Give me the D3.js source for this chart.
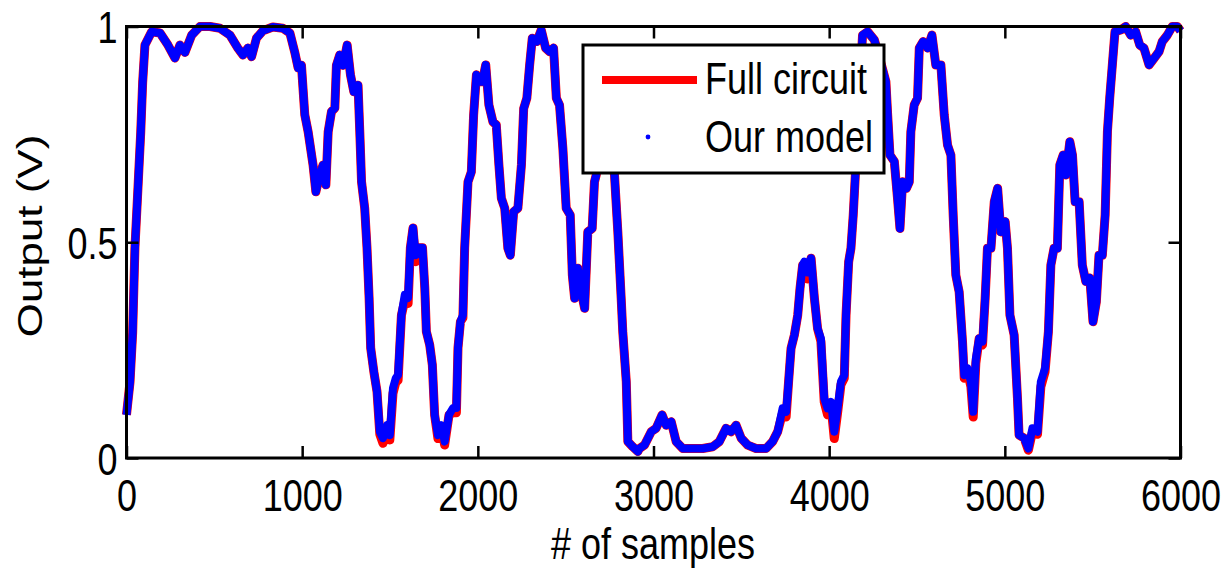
<!DOCTYPE html>
<html lang="en">
<head>
<meta charset="utf-8">
<title>Output vs samples</title>
<script src="https://d3js.org/d3.v7.min.js"></script>
<style>
  body { margin: 0; background: #fff; }
  svg text { font-family: "Liberation Sans", Arial, sans-serif; fill: #000; }
</style>
</head>
<body>
<svg width="1225" height="573"></svg>
<script>
// sample index of each traced point
var samples = [0,20,35,48,67,81,92,105,143,191,236,276,304,333,371,418,475,532,589,634,663,691,712,740,776,833,890,930,958,977,
  996,1015,1034,1062,1078,1100,1119,1135,1148,1167,1186,1195,1214,1233,1256,1275,1294,1318,1328,1338,1356,1369,1381,1390,1408,1426,1442,1460,1483,1499,
  1517,1533,1546,1565,1584,1603,1616,1631,1646,1665,1685,1698,1707,1726,1741,1754,1773,1793,1811,1836,1859,1878,1887,1901,1915,1925,1944,1963,1976,1992,
  2010,2026,2045,2063,2086,2105,2120,2134,2153,2171,2185,2204,2228,2248,2261,2279,2295,2310,2336,2361,2386,2408,2431,2447,2465,2484,2503,2526,2538,2551,
  2569,2589,2608,2626,2651,2664,2674,2710,2750,2778,2797,2816,2825,2845,2854,2882,2911,2920,2949,2987,3015,3049,3072,3101,3129,3167,3223,3280,3337,3375,
  3413,3442,3470,3499,3536,3584,3641,3678,3707,3735,3755,3769,3783,3802,3821,3834,3849,3859,3877,3897,3916,3934,3953,3972,3991,4011,4029,4048,4067,4086,
  4096,4111,4124,4137,4149,4166,4190,4219,4257,4285,4323,4333,4346,4371,4389,4403,4418,4440,4456,4465,4484,4503,4513,4535,4560,4585,4607,4636,4655,4674,
  4693,4706,4721,4740,4759,4769,4787,4807,4820,4835,4854,4873,4888,4901,4921,4940,4959,4977,5002,5015,5029,5053,5072,5081,5110,5134,5157,5186,5205,5229,
  5248,5262,5280,5299,5313,5332,5347,5370,5385,5400,5423,5441,5461,5484,5502,5521,5536,5555,5571,5584,5597,5612,5627,5660,5688,5717,5745,5768,5792,5821,
  5849,5878,5896,5925,5953,5982,6000];

// "Our model" output (V)
var model = [0.10,0.176,0.29,0.487,0.64,0.755,0.871,0.957,0.988,0.985,0.957,0.927,0.957,0.94,0.98,1.0,1.0,0.996,0.98,0.95,0.934,0.95,0.93,0.973,0.99,0.999,0.996,0.985,0.94,0.904,
  0.91,0.795,0.756,0.679,0.617,0.656,0.679,0.633,0.756,0.803,0.811,0.91,0.934,0.91,0.957,0.888,0.849,0.864,0.756,0.64,0.579,0.487,0.371,0.255,0.2,0.154,0.061,0.046,0.076,0.053,
  0.162,0.185,0.192,0.331,0.378,0.371,0.487,0.533,0.47,0.487,0.487,0.394,0.293,0.262,0.216,0.1,0.053,0.076,0.038,0.1,0.116,0.116,0.255,0.316,0.331,0.487,0.64,0.663,0.795,0.888,
  0.872,0.872,0.911,0.818,0.779,0.772,0.679,0.602,0.579,0.486,0.47,0.571,0.579,0.679,0.81,0.834,0.911,0.973,0.965,0.992,0.95,0.942,0.95,0.834,0.818,0.718,0.579,0.563,0.424,0.37,
  0.44,0.385,0.347,0.524,0.532,0.64,0.656,0.80,0.75,0.656,0.524,0.37,0.293,0.177,0.038,0.026,0.015,0.022,0.03,0.061,0.069,0.1,0.076,0.084,0.038,0.022,0.022,0.022,0.026,0.038,
  0.069,0.061,0.076,0.046,0.03,0.022,0.022,0.038,0.061,0.115,0.107,0.177,0.254,0.285,0.331,0.393,0.447,0.455,0.43,0.463,0.37,0.3,0.277,0.138,0.115,0.13,0.061,0.115,0.177,0.192,
  0.331,0.455,0.486,0.563,0.656,0.80,0.98,0.988,0.969,0.93,0.872,0.795,0.702,0.687,0.602,0.532,0.64,0.625,0.64,0.756,0.818,0.834,0.95,0.965,0.95,0.98,0.911,0.911,0.795,0.725,
  0.702,0.563,0.424,0.385,0.27,0.192,0.208,0.177,0.107,0.23,0.277,0.27,0.37,0.486,0.486,0.594,0.625,0.524,0.548,0.486,0.331,0.285,0.138,0.053,0.046,0.022,0.069,0.061,0.177,0.208,
  0.293,0.447,0.486,0.486,0.679,0.702,0.656,0.733,0.702,0.594,0.594,0.447,0.409,0.417,0.316,0.362,0.47,0.47,0.563,0.756,0.834,0.911,0.988,0.992,1.0,0.98,0.988,0.957,0.95,0.911,
  0.926,0.942,0.965,0.98,1.0,1.0,0.99];

// "Full circuit" output (V), a little lower in some valleys
var circuit = [0.10,0.176,0.29,0.487,0.64,0.755,0.871,0.957,0.988,0.985,0.957,0.927,0.957,0.94,0.98,1.0,1.0,0.996,0.98,0.95,0.934,0.95,0.93,0.973,0.99,0.999,0.996,0.985,0.94,0.904,
  0.91,0.795,0.756,0.679,0.617,0.656,0.679,0.633,0.756,0.803,0.811,0.91,0.934,0.91,0.957,0.888,0.849,0.864,0.756,0.64,0.579,0.487,0.371,0.255,0.2,0.154,0.055,0.034,0.07,0.042,
  0.15,0.175,0.18,0.331,0.365,0.358,0.487,0.533,0.455,0.487,0.487,0.394,0.293,0.262,0.216,0.1,0.045,0.07,0.03,0.1,0.105,0.105,0.255,0.316,0.325,0.487,0.64,0.663,0.795,0.888,
  0.872,0.872,0.911,0.818,0.779,0.772,0.679,0.602,0.579,0.486,0.47,0.571,0.579,0.679,0.81,0.834,0.911,0.973,0.965,0.992,0.95,0.942,0.95,0.834,0.818,0.718,0.579,0.563,0.424,0.37,
  0.44,0.385,0.347,0.524,0.532,0.64,0.656,0.80,0.75,0.656,0.524,0.37,0.293,0.177,0.038,0.026,0.015,0.022,0.03,0.061,0.069,0.1,0.076,0.084,0.038,0.022,0.022,0.022,0.026,0.038,
  0.069,0.061,0.076,0.046,0.03,0.022,0.022,0.038,0.061,0.105,0.095,0.177,0.254,0.285,0.331,0.393,0.447,0.45,0.415,0.463,0.37,0.3,0.27,0.13,0.1,0.12,0.045,0.105,0.17,0.185,
  0.331,0.455,0.486,0.563,0.656,0.80,0.98,0.988,0.969,0.93,0.872,0.795,0.702,0.687,0.602,0.532,0.64,0.625,0.64,0.756,0.818,0.834,0.95,0.965,0.95,0.98,0.911,0.911,0.795,0.725,
  0.702,0.563,0.424,0.385,0.27,0.185,0.2,0.165,0.095,0.22,0.277,0.262,0.37,0.486,0.486,0.594,0.625,0.524,0.548,0.486,0.331,0.285,0.138,0.053,0.046,0.018,0.06,0.055,0.165,0.2,
  0.293,0.447,0.486,0.486,0.679,0.702,0.656,0.733,0.702,0.594,0.594,0.447,0.409,0.417,0.316,0.362,0.47,0.47,0.563,0.756,0.834,0.911,0.988,0.992,1.0,0.98,0.988,0.957,0.95,0.911,
  0.926,0.942,0.965,0.98,1.0,1.0,0.99];

var xTicks = [0, 1000, 2000, 3000, 4000, 5000, 6000];
var yTicks = [0, 0.5, 1];
var yTickLabels = ["0", "0.5", "1"];
var seriesNames = ["Full circuit", "Our model"];

var svg = d3.select("svg"),
    plotLeft = 126.5, plotRight = 1180.5, plotTop = 26.5, plotBottom = 458,
    fontSize = 36, stretch = 1.22;

var x = d3.scaleLinear().domain([0, 6000]).range([plotLeft, plotRight]),
    y = d3.scaleLinear().domain([0, 1]).range([plotBottom, plotTop]);

var points = samples.map(function(s, i) { return { s: s, m: model[i], c: circuit[i] }; });

// curves
svg.append("path")
   .datum(points)
   .attr("fill", "none")
   .attr("stroke", "#ff0000")
   .attr("stroke-width", 9)
   .attr("stroke-linejoin", "round")
   .attr("d", d3.line().x(function(d) { return x(d.s); }).y(function(d) { return y(d.c); }));

svg.append("path")
   .datum(points)
   .attr("fill", "none")
   .attr("stroke", "#0000ff")
   .attr("stroke-width", 8)
   .attr("stroke-linejoin", "round")
   .attr("d", d3.line().x(function(d) { return x(d.s); }).y(function(d) { return y(d.m); }));

// axes, ticks pointing inward on all four sides
var gB = svg.append("g").attr("transform", "translate(0," + plotBottom + ")")
  .call(d3.axisBottom(x).tickValues(xTicks).tickSize(-12).tickSizeOuter(0).tickFormat(d3.format("d")));
gB.selectAll("text").attr("y", null).attr("dy", null)
  .attr("transform", "translate(0,53) scale(1," + stretch + ")");

svg.append("g").attr("transform", "translate(0," + plotTop + ")")
  .call(d3.axisTop(x).tickValues(xTicks).tickSize(-12).tickSizeOuter(0).tickFormat(""));

var gL = svg.append("g").attr("transform", "translate(" + plotLeft + ",0)")
  .call(d3.axisLeft(y).tickValues(yTicks).tickSize(-12).tickSizeOuter(0)
    .tickFormat(function(d, i) { return yTickLabels[i]; }));
gL.selectAll("text").attr("x", null).attr("dy", null)
  .attr("transform", "translate(-9,16) scale(1," + stretch + ")");

svg.append("g").attr("transform", "translate(" + plotRight + ",0)")
  .call(d3.axisRight(y).tickValues(yTicks).tickSize(-12).tickSizeOuter(0).tickFormat(""));

svg.selectAll(".domain").remove();
svg.selectAll(".tick line").attr("stroke", "#000").attr("stroke-width", 2.5);
svg.selectAll(".tick text").attr("font-size", fontSize).attr("font-family", null).attr("fill", "#000");

svg.append("rect")
   .attr("x", plotLeft).attr("y", plotTop)
   .attr("width", plotRight - plotLeft).attr("height", plotBottom - plotTop)
   .attr("fill", "none").attr("stroke", "#000").attr("stroke-width", 3);

// axis titles
svg.append("text")
   .attr("text-anchor", "middle")
   .attr("font-size", fontSize)
   .attr("transform", "translate(653,559) scale(1," + stretch + ")")
   .text("# of samples");

svg.append("text")
   .attr("text-anchor", "middle")
   .attr("font-size", fontSize)
   .attr("transform", "translate(42,236) rotate(-90) scale(" + stretch + ",1)")
   .text("Output (V)");

// legend
var lg = svg.append("g");
lg.append("rect")
  .attr("x", 583).attr("y", 45).attr("width", 301).attr("height", 128)
  .attr("fill", "#fff").attr("stroke", "#000").attr("stroke-width", 3);
lg.append("line")
  .attr("x1", 602).attr("x2", 697).attr("y1", 80).attr("y2", 80)
  .attr("stroke", "#ff0000").attr("stroke-width", 8);
lg.append("circle")
  .attr("cx", 648).attr("cy", 137).attr("r", 2.4).attr("fill", "#0000ff");
seriesNames.forEach(function(name, i) {
  lg.append("text")
    .attr("font-size", fontSize)
    .attr("transform", "translate(705," + (94 + i * 58) + ") scale(1," + stretch + ")")
    .text(name);
});
</script>
</body>
</html>
